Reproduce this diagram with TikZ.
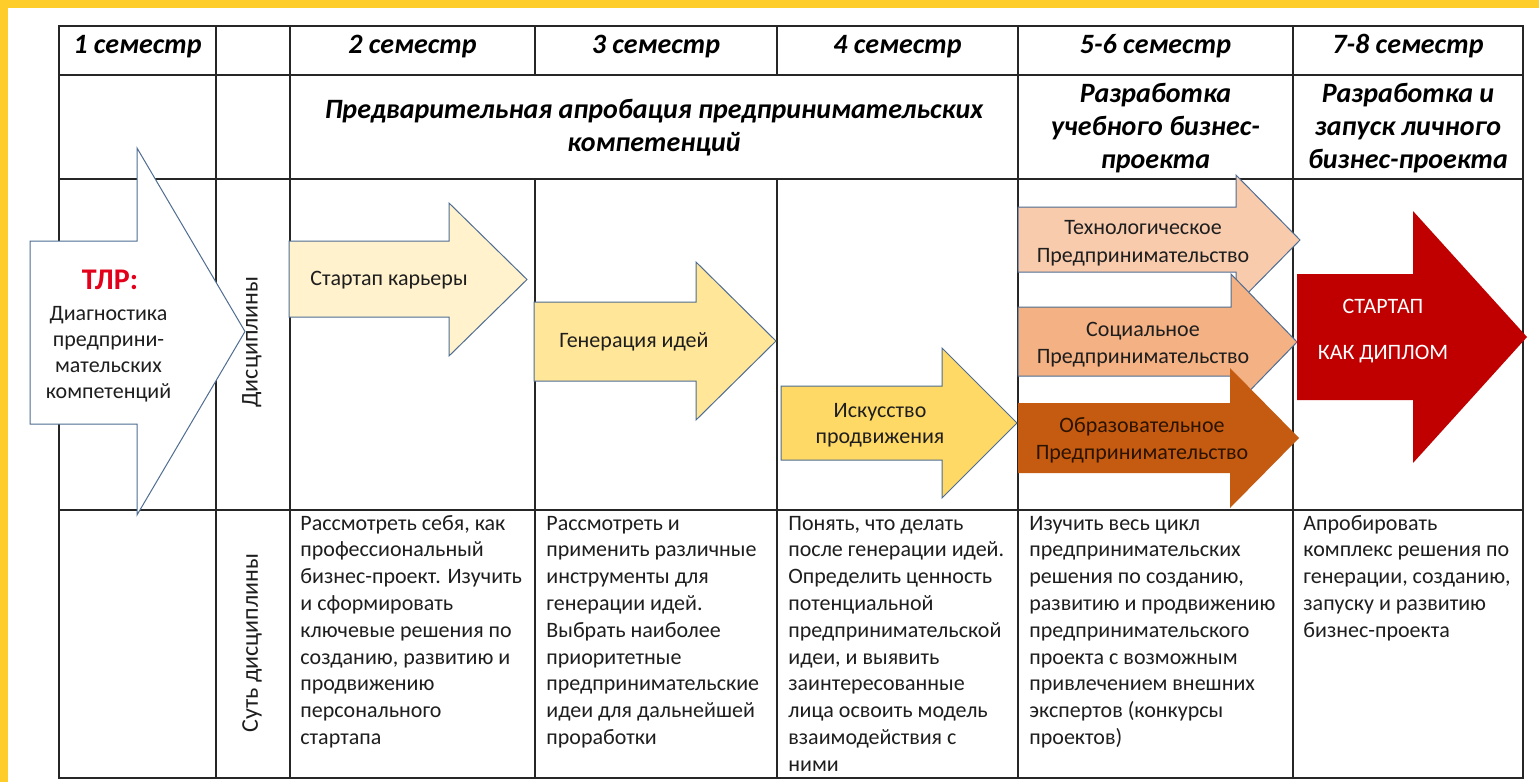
\documentclass[tikz,border=0pt]{standalone}
\usepackage{fontspec}
\setmainfont{Carlito}
\definecolor{frameY}{HTML}{FFCD2A}
\definecolor{gridc}{HTML}{262626}
\definecolor{arrowline}{HTML}{4F6D92}
\definecolor{textc}{HTML}{1E1E1E}
\definecolor{cA}{HTML}{FFF2CC}
\definecolor{cB}{HTML}{FFE699}
\definecolor{cC}{HTML}{FFD966}
\definecolor{cD}{HTML}{F8CBAD}
\definecolor{cE}{HTML}{F4B183}
\definecolor{cF}{HTML}{C55A11}
\definecolor{cG}{HTML}{C00000}
\definecolor{tlrred}{HTML}{E2001A}
\definecolor{edutext}{HTML}{2B1300}
\newcommand\arrowpoly[8]{\path[#1] (#2,#3) -- (#5,#3) -- (#5,#6) -- (#8,{(#6+#7)/2}) -- (#5,#7) -- (#5,#4) -- (#2,#4) -- cycle;}
\begin{document}
\begin{tikzpicture}[x=0.5pt,y=-0.5pt,
  grid/.style={draw=gridc, line width=0.8pt},
  arrowshape/.style={draw=arrowline, line width=0.5pt, line join=miter},
  hdr/.style={font=\fontsize{14}{16.5}\selectfont\bfseries\itshape, inner sep=0pt, align=center, text=black},
  lbl/.style={font=\fontsize{11}{13.5}\selectfont, inner sep=0pt, align=center, text=textc},
  desc/.style={anchor=north west, inner sep=0pt, align=left, font=\fontsize{11}{13.4}\selectfont, text=textc}]
\useasboundingbox (0,0) rectangle (1539,782);
\fill[white] (0,0) rectangle (1539,782);
\fill[frameY] (0,0) rectangle (1539,8);
\fill[frameY] (0,0) rectangle (8,782);

% table grid
\draw[grid] (59,26) rectangle (1523,778);
\draw[grid] (59,75) -- (1523,75) (59,179) -- (1523,179) (59,510) -- (1523,510);
\draw[grid] (216,26) -- (216,778) (290,26) -- (290,778) (1018,26) -- (1018,778) (1293,26) -- (1293,778);
\draw[grid] (535,26) -- (535,75) (535,179) -- (535,778) (777,26) -- (777,75) (777,179) -- (777,778);

% header row
\node[hdr, anchor=base] (h1) at (137.5,53) {1 семестр};
\node[hdr, anchor=base] (h2) at (412.5,53) {2 семестр};
\node[hdr, anchor=base] (h3) at (656,53) {3 семестр};
\node[hdr, anchor=base] (h4) at (897.5,53) {4 семестр};
\node[hdr, anchor=base] (h5) at (1155.5,53) {5-6 семестр};
\node[hdr, anchor=base] (h6) at (1408,53) {7-8 семестр};

% second row
\node[hdr] (stage1) at (654,128) {Предварительная апробация предпринимательских\\компетенций};
\node[hdr] (stage2) at (1155.5,128) {Разработка\\учебного бизнес-\\проекта};
\node[hdr] (stage3) at (1408,128) {Разработка и\\запуск личного\\бизнес-проекта};

% arrows
\arrowpoly{arrowshape, fill=white}{30}{241}{424}{137}{148}{515}{245}
\arrowpoly{arrowshape, fill=cA}{289}{241}{317}{449}{203}{356}{527}
\arrowpoly{arrowshape, fill=cB}{534}{302}{381}{696}{262}{420}{776}
\arrowpoly{arrowshape, fill=cC}{781}{386}{460}{942}{348}{498}{1017}
\arrowpoly{arrowshape, fill=cD}{1018}{207}{272}{1236}{175}{305}{1300}
\arrowpoly{arrowshape, fill=cE}{1018}{307}{376}{1231}{274}{410}{1297}
\arrowpoly{fill=cF}{1018}{403}{473}{1230}{368}{508}{1299}
\arrowpoly{fill=cG}{1297}{274}{400}{1413}{211}{463}{1527}

% arrow labels
\node[font=\fontsize{15}{18}\selectfont\bfseries, text=tlrred, inner sep=0pt] (tlr) at (110,280) {ТЛР:};
\node[lbl, font=\fontsize{11}{13}\selectfont] (diag) at (108.5,354) {Диагностика\\предприни-\\мательских\\компетенций};
\node[lbl] (career) at (389,280) {Стартап карьеры};
\node[lbl] (ideas) at (634,342) {Генерация идей};
\node[lbl, font=\fontsize{11}{13}\selectfont] (promo) at (880,425) {Искусство\\продвижения};
\node[lbl, font=\fontsize{11}{14}\selectfont] (tech) at (1143,243) {Технологическое\\Предпринимательство};
\node[lbl] (social) at (1143,344.5) {Социальное\\Предпринимательство};
\node[lbl, text=edutext] (edu) at (1142,440.5) {Образовательное\\Предпринимательство};
\node[lbl, text=white, font=\fontsize{11}{23}\selectfont] (diploma) at (1383,331) {СТАРТАП\\КАК ДИПЛОМ};

% rotated row titles
\node[lbl, rotate=90, font=\fontsize{12}{14}\selectfont] (disc) at (252,342) {Дисциплины};
\node[lbl, rotate=90, font=\fontsize{12}{14}\selectfont] (essence) at (252,643) {Суть дисциплины};

% descriptions
\node[desc] (d2) at (300,511) {\strut Рассмотреть себя, как\\профессиональный\\бизнес-проект. Изучить\\и сформировать\\ключевые решения по\\созданию, развитию и\\продвижению\\персонального\\стартапа};
\node[desc] (d3) at (546,511) {\strut Рассмотреть и\\применить различные\\инструменты для\\генерации идей.\\Выбрать наиболее\\приоритетные\\предпринимательские\\идеи для дальнейшей\\проработки};
\node[desc] (d4) at (788,511) {\strut Понять, что делать\\после генерации идей.\\Определить ценность\\потенциальной\\предпринимательской\\идеи, и выявить\\заинтересованные\\лица освоить модель\\взаимодействия с\\ними};
\node[desc] (d5) at (1029,511) {\strut Изучить весь цикл\\предпринимательских\\решения по созданию,\\развитию и продвижению\\предпринимательского\\проекта с возможным\\привлечением внешних\\экспертов (конкурсы\\проектов)};
\node[desc] (d6) at (1303,511) {\strut Апробировать\\комплекс решения по\\генерации, созданию,\\запуску и развитию\\бизнес-проекта};
\end{tikzpicture}
\end{document}
